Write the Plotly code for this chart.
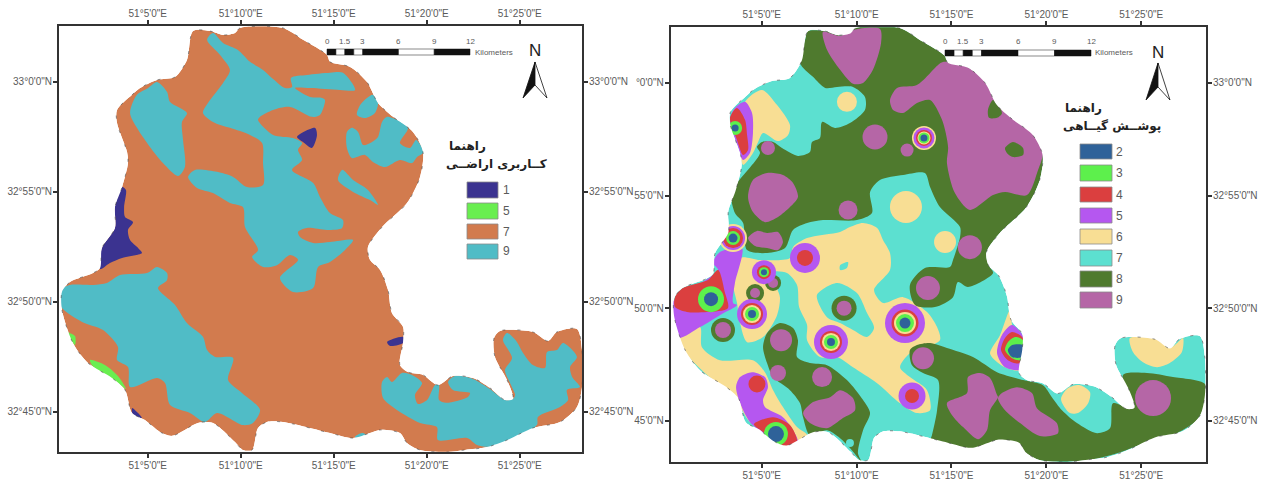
import plotly.graph_objects as go

# All map vertices are (longitude minutes past 51 deg E, latitude minutes past 32 deg 40' N)
BOUNDARY = [(7.44,22.3),(8.35,22.3),(9.05,22.12),(9.69,22.21),(9.96,22.44),(12.27,22.44),(13.35,21.9),(14.64,21.21),(14.8,20.9),(15.88,20.67),(16.79,19.98),(17.38,19.03),(18.19,18.4),(19.26,17.71),(19.8,16.8),(19.64,15.67),(18.94,14.48),(17.6,13.39),(16.84,12.48),(16.95,11.9),(17.49,11.44),(17.92,10.53),(18.13,9.49),(18.73,8.85),(18.73,8.17),(18.56,7.12),(18.99,6.8),(19.8,6.67),(20.6,6.21),(21.41,6.62),(22.49,6.53),(23.4,6.08),(24.21,5.53),(24.64,5.58),(24.32,6.44),(23.67,7.49),(23.62,8.35),(23.94,8.67),(25.71,8.62),(26.52,8.21),(27.0,8.62),(28.08,8.76),(28.35,7.8),(28.35,6.12),(28.08,5.21),(27.17,4.53),(25.71,4.26),(24.32,3.71),(23.24,3.39),(22.06,3.26),(21.09,3.17),(19.64,3.26),(18.94,3.58),(18.56,4.03),(17.49,4.17),(16.95,4.03),(16.03,3.8),(14.8,4.03),(12.27,4.53),(11.41,4.53),(10.93,4.26),(10.61,3.26),(10.12,3.26),(9.69,3.62),(8.51,4.49),(7.7,4.49),(6.31,3.9),(5.66,4.08),(4.85,4.62),(4.16,4.94),(3.78,5.99),(3.08,6.53),(1.79,7.21),(0.98,8.12),(0.39,9.62),(0.39,10.44),(0.82,10.89),(2.06,11.3),(2.44,11.53),(2.54,12.44),(3.24,13.35),(3.24,14.3),(3.62,15.2),(3.94,16.3),(3.89,16.8),(3.35,18.12),(3.35,18.71),(4.16,19.4),(4.59,19.71),(5.5,20.08),(6.47,20.21),(7.11,20.98)]

# ---- Land use map, class 9
LU9_CENTRAL = [(8.19,21.9),(8.51,22.21),(9.05,21.76),(9.85,21.44),(10.5,20.9),(11.2,20.53),(11.74,20.12),(12.38,19.71),(12.76,19.76),(12.7,20.17),(13.56,20.3),(14.8,20.4),(15.5,20.4),(16.15,19.62),(15.34,19.62),(13.73,19.71),(12.92,19.71),(13.73,19.3),(14.37,19.26),(14.53,19.17),(14.26,18.49),(13.83,18.4),(12.65,18.85),(11.74,18.71),(11.04,18.4),(10.93,18.26),(11.74,17.58),(12.81,17.44),(13.3,17.21),(13.08,16.9),(13.3,16.44),(12.76,15.99),(13.89,15.4),(14.26,14.76),(14.8,14.03),(15.5,13.71),(15.45,13.35),(14.64,13.26),(13.56,13.35),(13.08,13.17),(13.19,12.94),(13.89,12.67),(14.8,12.71),(16.04,12.8),(15.61,12.35),(14.8,11.8),(14.16,11.58),(13.89,10.62),(12.81,10.44),(12.11,11.08),(13.08,11.9),(12.65,12.12),(11.95,11.66),(11.2,11.58),(10.61,12.03),(10.93,12.35),(10.23,13.39),(10.12,14.3),(9.42,14.49),(8.51,14.94),(7.65,15.17),(7.17,15.67),(7.54,15.99),(8.73,15.9),(9.59,15.67),(10.34,15.21),(11.2,15.3),(11.2,16.3),(11.15,17.21),(10.5,17.58),(9.42,17.9),(8.51,18.17),(7.97,18.58),(8.24,19.03),(9.05,19.94),(9.42,20.53),(8.89,21.21)]
LU9_WEST = [(5.5,19.98),(6.04,19.53),(6.2,19.08),(7.11,18.58),(6.84,18.17),(6.9,17.35),(7.0,16.12),(6.63,15.71),(5.82,16.3),(5.12,17.03),(4.42,17.9),(4.05,18.58),(4.42,19.4),(5.02,19.71)]
LU9_EAST = [(17.87,18.4),(18.99,17.9),(18.56,17.21),(19.1,16.99),(19.43,17.35),(19.75,16.99),(19.8,16.76),(19.48,16.58),(19.21,16.3),(18.56,16.44),(17.76,16.12),(17.11,16.35),(16.68,16.67),(15.98,16.53),(15.71,16.99),(15.71,17.71),(15.98,17.9),(16.31,17.71),(16.58,17.12),(17.06,17.26),(17.38,17.49),(17.6,18.17)]
LU9_NE_BLOB = [(17.11,19.4),(17.38,19.03),(17.22,18.58),(16.68,18.35),(16.25,18.49),(16.42,18.94),(16.79,19.26)]
LU9_STRIP = [(15.45,15.99),(16.04,15.53),(16.84,15.08),(17.38,14.4),(16.95,14.62),(16.04,14.99),(15.23,15.53)]
LU9_SW = [(0.28,10.08),(0.45,10.62),(0.82,10.76),(2.06,10.76),(2.81,10.85),(3.51,11.21),(4.96,11.3),(5.5,11.58),(6.04,11.3),(6.04,10.99),(5.55,10.62),(6.47,9.85),(7.11,9.03),(7.97,8.4),(8.19,7.8),(8.62,7.49),(9.59,7.44),(9.32,6.44),(10.07,5.85),(11.04,5.08),(10.66,4.49),(10.12,4.39),(8.73,4.94),(8.08,4.53),(7.27,4.94),(6.2,5.3),(5.93,6.3),(5.5,6.53),(4.05,6.12),(3.94,7.03),(3.35,7.35),(3.4,7.94),(2.6,8.71),(1.47,9.08),(0.39,9.71)]
LU9_SE = [(17.6,6.35),(17.87,6.58),(18.13,6.35),(18.67,6.76),(19.21,6.67),(19.75,6.3),(19.37,5.76),(19.53,5.35),(20.02,5.53),(20.45,6.21),(20.66,6.21),(20.66,5.53),(21.04,5.4),(22.22,5.67),(22.33,5.85),(21.41,5.99),(21.15,6.35),(21.52,6.62),(22.49,6.49),(23.4,6.03),(24.21,5.53),(24.64,5.58),(24.75,5.76),(24.48,6.3),(24.21,6.9),(24.59,7.44),(24.1,8.26),(24.32,8.58),(24.85,8.17),(25.18,7.67),(25.71,7.12),(26.36,6.99),(26.47,7.71),(27.0,7.8),(27.33,8.12),(28.08,7.49),(27.71,7.03),(27.82,6.58),(28.24,6.12),(27.54,5.99),(27.6,5.53),(27.17,5.21),(25.98,4.76),(25.93,4.4),(24.64,3.71),(23.57,3.39),(22.71,3.48),(22.17,3.8),(20.6,3.71),(20.55,4.3),(19.64,4.49),(18.4,5.08),(17.65,5.62)]
LU9_SOUTH_SPECK = [(16.14,3.85),(16.52,4.03),(16.84,3.9),(16.52,3.71)]
# ---- Land use map, class 5
LU5_A = [(0.61,8.62),(1.09,8.44),(1.09,8.03),(0.82,8.35)]
LU5_B = [(1.9,7.35),(2.7,7.12),(3.4,6.62),(3.83,6.03),(3.24,6.4),(2.6,6.67),(2.0,7.12)]
# ---- Land use map, class 1
LU1_WEST = [(3.62,15.21),(3.83,15.08),(3.73,14.3),(3.78,13.85),(4.21,13.62),(3.94,13.26),(4.05,12.8),(4.48,12.44),(4.69,12.21),(3.62,11.99),(2.97,11.76),(2.44,11.48),(2.54,12.44),(3.24,13.35),(3.24,14.3)]
LU1_NORTH = [(13.03,17.49),(13.99,17.9),(14.1,17.58),(13.83,16.99),(13.35,17.26)]
LU1_EAST = [(17.87,8.17),(18.73,8.4),(18.73,8.12),(18.03,7.99)]
LU1_SOUTH = [(4.16,5.17),(4.48,4.94),(4.69,4.71),(4.21,4.85)]

# ---- Vegetation map
V6_MAIN = [(6.65,12.71),(7.39,13.11),(9.13,13.38),(9.65,13.6),(10.34,13.78),(11.08,13.56),(11.39,13.03),(11.76,12.45),(11.76,11.69),(10.92,10.8),(11.39,10.23),(12.45,10.49),(13.71,9.83),(14.24,9.16),(14.39,8.58),(12.81,8.0),(12.29,7.38),(12.81,6.94),(13.71,6.36),(13.87,5.47),(13.18,5.34),(12.29,5.78),(11.08,6.67),(9.81,7.38),(8.97,7.83),(8.07,7.83),(7.39,8.58),(7.39,9.25),(6.97,10.05),(6.86,11.03),(6.33,11.56),(5.6,11.6),(5.7,11.11),(5.96,10.49),(5.81,9.69),(5.07,8.72),(4.23,8.49),(3.86,9.34),(3.7,10.23),(3.49,11.12),(3.86,12.23),(4.91,12.14),(6.49,12.23)]
V6_WEST = [(4.12,19.16),(5.02,19.69),(5.81,19.02),(6.49,18.13),(6.39,17.69),(5.86,17.42),(5.07,17.78),(4.81,17.38),(4.54,16.89),(4.02,16.36),(3.86,17.02)]
V6_SW = [(0.59,8.67),(1.75,9.16),(1.85,8.27),(2.8,7.69),(4.54,7.69),(5.17,7.16),(5.6,6.36),(6.12,5.61),(6.86,4.72),(7.39,4.36),(6.49,3.92),(4.38,4.94),(3.49,6.14),(2.12,7.03),(0.85,8.14)]
V6_SOUTH = [(20.77,5.96),(21.14,6.45),(21.77,6.58),(22.3,6.27),(22.2,5.78),(21.66,5.34),(21.24,5.34)]
V6_EAST = [(24.4,8.67),(25.83,8.63),(26.5,8.23),(26.93,8.49),(27.2,8.67),(27.14,8.05),(26.5,7.56),(25.83,7.38),(25.09,7.6),(24.56,8.05)]
V6_E_TARGET = [(18.08,9.92),(18.19,9.25),(18.61,7.25),(17.82,7.38),(17.29,7.69),(17.03,8.0),(17.56,8.81)]
V7_CENTER = [(7.91,10.58),(8.97,11.12),(10.02,10.67),(10.55,9.78),(10.92,9.12),(10.55,8.72),(9.81,9.03),(9.13,9.34),(8.44,9.6)]
V7_SPECK = [(9.13,11.91),(9.55,12.05),(9.49,11.78),(9.13,11.69)]
V8_NORTH = [(7.44,22.3),(8.35,22.3),(9.05,22.12),(9.69,22.21),(9.96,22.44),(12.27,22.44),(13.35,21.9),(14.64,21.21),(14.8,20.9),(15.88,20.67),(16.79,19.98),(17.38,19.03),(18.19,18.4),(19.26,17.71),(19.8,16.8),(19.64,15.67),(18.94,14.48),(17.6,13.39),(16.84,12.48),(16.95,11.9),(17.19,11.56),(15.87,10.94),(15.34,11.16),(15.08,10.49),(14.13,10.05),(13.08,10.14),(12.81,11.03),(13.6,11.78),(14.92,11.83),(15.08,12.14),(15.45,13.16),(15.45,13.6),(14.39,14.49),(13.87,15.38),(13.6,16.0),(12.45,15.91),(11.23,15.69),(10.71,15.16),(10.81,14.22),(10.02,13.91),(8.23,13.91),(7.39,13.78),(6.65,13.47),(6.23,12.67),(5.29,12.45),(4.23,12.58),(4.02,13.78),(3.59,14.22),(3.38,15.11),(3.7,15.56),(4.91,16.89),(4.75,17.16),(5.02,17.38),(5.6,17.38),(6.07,17.11),(6.91,16.76),(7.54,16.93),(7.65,17.38),(8.07,17.56),(8.18,18.27),(8.86,18.0),(9.65,18.22),(10.44,18.8),(10.44,19.38),(9.81,19.82),(8.97,19.82),(8.34,19.78),(7.7,20.27),(7.02,20.89),(7.29,21.91)]
V8_SOUTHEAST = [(13.87,8.45),(14.76,8.23),(16.13,7.83),(17.4,7.16),(18.77,6.81),(19.82,6.58),(20.29,6.05),(20.82,5.47),(21.61,4.9),(22.67,4.45),(23.35,4.67),(23.51,5.78),(24.41,5.52),(24.56,5.56),(24.04,7.03),(25.3,7.12),(26.67,6.94),(28.36,6.63),(28.36,5.78),(27.93,5.03),(26.88,4.45),(25.3,4.05),(23.72,3.56),(22.14,3.25),(19.66,3.25),(18.87,3.6),(18.5,3.92),(17.4,4.05),(16.13,3.78),(13.87,4.05),(13.97,4.36),(14.24,5.47),(14.29,6.81),(13.5,7.12),(12.92,7.47),(12.81,8.14),(13.18,8.36)]
V8_SOUTHWEST = [(5.07,8.27),(5.28,8.89),(5.96,9.34),(6.65,9.12),(6.91,8.58),(6.86,7.83),(7.54,7.56),(8.44,7.47),(9.49,6.81),(10.34,5.92),(10.71,5.34),(10.34,4.58),(10.07,3.56),(10.28,3.16),(9.65,3.79),(9.13,4.23),(8.44,4.58),(7.54,4.36),(7.18,5.16),(7.02,5.78),(6.49,6.36),(5.6,6.94),(5.28,7.56)]
V8_IN_PINK_A = [(16.92,18.8),(17.19,19.24),(17.66,18.67),(17.4,18.45),(16.98,18.45)]
V8_IN_PINK_B = [(17.82,17.11),(18.24,17.38),(18.77,17.11),(18.77,16.8),(18.24,16.71),(17.92,16.89)]
V9_NORTH = [(8.23,22.27),(9.13,22.09),(9.81,22.35),(11.23,22.4),(11.29,21.78),(10.86,20.58),(10.34,20.0),(9.81,19.96),(9.13,20.58),(8.44,21.47)]
V9_NORTHEAST = [(11.76,19.24),(11.92,18.8),(12.45,18.67),(13.18,19.11),(13.87,19.24),(14.5,18.36),(14.82,17.16),(14.76,16.45),(15.18,15.11),(15.97,14.36),(17.19,15.02),(17.82,15.16),(18.98,15.02),(19.56,16.13),(19.82,16.89),(19.5,17.69),(18.19,18.49),(17.19,19.33),(16.87,20.04),(15.61,20.8),(14.55,20.93),(14.29,20.8),(13.18,19.91),(12.13,19.78)]
V9_WEST = [(4.28,14.94),(4.54,15.69),(5.28,16.0),(6.12,15.91),(6.65,15.56),(6.91,14.94),(6.49,14.49),(5.86,14.05),(5.17,13.82),(4.54,14.27)]
V9_WEST_SMALL = [(4.28,13.11),(4.75,13.43),(5.28,13.34),(5.86,13.38),(6.12,12.94),(5.86,12.58),(5.28,12.67),(4.65,12.76)]
V9_SE_A = [(14.76,5.78),(15.82,6.23),(15.87,6.94),(16.5,7.12),(17.03,6.9),(17.4,6.14),(17.45,6.05),(17.03,5.47),(16.87,4.58),(16.4,4.18),(15.61,4.72),(15.03,5.25)]
V9_SE_B = [(17.66,6.23),(18.45,6.49),(19.24,6.23),(19.5,5.56),(20.55,4.9),(20.61,4.45),(19.66,4.32),(18.61,4.9),(17.82,5.47),(17.45,6.0)]
V9_SOUTH = [(7.18,5.34),(7.7,5.83),(8.6,6.05),(9.13,6.36),(9.81,6.01),(9.92,5.47),(9.28,5.12),(8.44,4.67),(7.54,4.9)]
V7_TEAL_SPOT_LON = [9.65]
V7_TEAL_SPOT_LAT = [4.01]
V6_SPOT_LON = [9.49, 12.6, 14.66]
V6_SPOT_LAT = [19.16, 14.49, 12.94]
V8_SPOT_LON = [9.34, 2.96, 5.6, 4.65]
V8_SPOT_LAT = [10.0, 9.03, 11.12, 10.67]
V9_SPOT_LON = [10.97, 12.66, 5.33, 9.55, 15.97, 13.76, 13.5, 6.02, 5.86, 8.18, 25.62, 2.96, 9.34, 5.6, 4.65]
V9_SPOT_LAT = [17.6, 17.02, 17.11, 14.36, 12.71, 10.89, 7.78, 8.58, 7.12, 6.94, 6.01, 9.03, 10.0, 11.12, 10.67]
V5_WEST = [(4.12,19.16),(4.49,18.67),(4.54,17.78),(4.38,16.89),(4.02,16.58),(3.75,17.16),(3.33,18.36),(3.59,18.89)]
V4_WEST = [(3.7,18.89),(4.12,18.36),(4.23,17.69),(4.28,17.02),(4.02,16.8),(3.7,17.47),(3.33,18.45)]
V5_W_BULGE = [(2.43,12.0),(2.8,12.49),(3.96,12.67),(3.59,11.12),(3.49,10.23),(3.7,10.14),(2.8,9.69),(1.75,9.16),(0.59,8.67),(0.27,9.6),(0.27,10.23),(2.7,11.69)]
V4_W_BULGE = [(0.43,10.49),(0.85,10.89),(2.17,11.25),(2.7,11.69),(3.07,10.67),(3.22,10.0),(2.12,9.83),(1.06,9.83),(0.43,10.05)]
V5_SW = [(3.65,6.5),(3.86,6.94),(4.49,7.16),(5.17,6.94),(5.33,6.5),(5.07,5.92),(5.17,5.61),(6.12,5.16),(6.65,4.58),(6.91,4.05),(6.33,3.83),(5.07,4.45),(4.38,4.94),(3.86,5.79)]
V4_SW = [(4.59,4.85),(5.6,5.16),(6.49,4.81),(6.86,4.05),(6.33,3.83),(5.07,4.5)]
V5_E_TARGET = [(18.19,9.25),(18.82,8.67),(18.71,7.29),(17.82,7.38),(17.4,8.0),(17.66,8.81)]
V4_E_TARGET = [(18.19,8.94),(18.77,8.67),(18.61,7.56),(17.97,7.69),(17.61,8.14),(17.82,8.67)]
V3_E_TARGET = [(18.35,8.72),(18.77,8.58),(18.71,7.69),(18.19,7.78),(17.82,8.14),(17.97,8.49)]
V2_E_TARGET = [(18.19,8.36),(18.77,8.36),(18.71,7.83),(18.19,7.83),(17.97,8.14)]
TARGET_LON = [13.55, 3.6, 3.49, 2.33, 4.49, 5.12, 8.65, 12.55, 12.92, 7.28, 4.75, 5.75]
TARGET_LAT = [17.56, 18.0, 13.11, 10.4, 9.74, 11.6, 8.5, 9.34, 6.1, 12.23, 6.63, 4.41]

LON_TICKS = [5, 10, 15, 20, 25]
LON_LABELS = ["51°5'0\"E", "51°10'0\"E", "51°15'0\"E", "51°20'0\"E", "51°25'0\"E"]
LAT_TICKS = [20, 15, 10, 5]
LAT_LABELS_FULL = ["33°0'0\"N", "32°55'0\"N", "32°50'0\"N", "32°45'0\"N"]
LAT_LABELS_CUT = ["°0'0\"N", "55'0\"N", "50'0\"N", "45'0\"N"]

LANDUSE_CLASSES = ["1", "5", "7", "9"]
VEGETATION_CLASSES = ["2", "3", "4", "5", "6", "7", "8", "9"]
SCALE_LABELS = ["0", "1.5", "3", "6", "9", "12"]

# ---- styles
W, H = 1264, 483
LU = {"1": "#3B3390", "5": "#69EE50", "7": "#D27B4E", "9": "#50BCC6"}
VG = {"2": "#2F6299", "3": "#5DF04C", "4": "#DB3F3F", "5": "#B557F0", "6": "#F8DE94", "7": "#5CE0D0", "8": "#4F7A2E", "9": "#B566A6"}
GREY = "#5a5a5a"
FRAME = "#333333"
X_RANGE = [0.23, 28.35]
Y_RANGE_L = [3.18, 22.53]
X_RANGE_R = [0.205, 28.41]
Y_RANGE_R = [3.17, 22.47]
SMOOTH = 0.8

fig = go.Figure()

def poly(coords, color, xa, ya):
    xs = [c[0] for c in coords] + [coords[0][0]]
    ys = [c[1] for c in coords] + [coords[0][1]]
    fig.add_trace(go.Scatter(x=xs, y=ys, mode="lines", fill="toself", fillcolor=color,
                             line=dict(width=0, color=color, shape="spline", smoothing=SMOOTH),
                             hoverinfo="skip", xaxis=xa, yaxis=ya))

def dots(lons, lats, sizes, colors, xa, ya):
    fig.add_trace(go.Scatter(x=lons, y=lats, mode="markers",
                             marker=dict(size=sizes, color=colors, line=dict(width=0), opacity=1),
                             hoverinfo="skip", xaxis=xa, yaxis=ya))

def mask(xr, yr, xa, ya):
    # a white sheet, pierced by the study-area outline, stretching past the axes
    x0, x1, y0, y1 = xr[0]-4, xr[1]+4, yr[0]-4, yr[1]+4
    outer = [(x0, y1), (x0, y0), (x1, y0), (x1, y1), (x0, y1)]
    xs = [p[0] for p in outer] + [None] + [c[0] for c in BOUNDARY] + [BOUNDARY[0][0]]
    ys = [p[1] for p in outer] + [None] + [c[1] for c in BOUNDARY] + [BOUNDARY[0][1]]
    fig.add_trace(go.Scatter(x=xs, y=ys, mode="lines", fill="toself", fillcolor="white",
                             line=dict(width=0, color="white", shape="spline", smoothing=SMOOTH),
                             hoverinfo="skip", xaxis=xa, yaxis=ya))
    xs = [c[0] for c in BOUNDARY] + [BOUNDARY[0][0]]
    ys = [c[1] for c in BOUNDARY] + [BOUNDARY[0][1]]
    fig.add_trace(go.Scatter(x=xs, y=ys, mode="lines",
                             line=dict(width=0.6, color="#444444", dash="3px,12px", shape="spline", smoothing=SMOOTH),
                             hoverinfo="skip", xaxis=xa, yaxis=ya))

# left map
poly(BOUNDARY, LU["7"], "x", "y")
for p in [LU9_CENTRAL, LU9_WEST, LU9_EAST, LU9_NE_BLOB, LU9_STRIP, LU9_SW, LU9_SE, LU9_SOUTH_SPECK]:
    poly(p, LU["9"], "x", "y")
for p in [LU5_A, LU5_B]:
    poly(p, LU["5"], "x", "y")
for p in [LU1_WEST, LU1_NORTH, LU1_EAST, LU1_SOUTH]:
    poly(p, LU["1"], "x", "y")
mask(X_RANGE, Y_RANGE_L, "x", "y")

# right map
poly(BOUNDARY, VG["7"], "x2", "y2")
for p in [V6_MAIN, V6_WEST, V6_SW, V6_SOUTH, V6_EAST, V6_E_TARGET]:
    poly(p, VG["6"], "x2", "y2")
for p in [V7_CENTER, V7_SPECK]:
    poly(p, VG["7"], "x2", "y2")
dots(V6_SPOT_LON, V6_SPOT_LAT, [20, 32, 22], VG["6"], "x2", "y2")
for p in [V8_NORTH, V8_SOUTHEAST, V8_SOUTHWEST]:
    poly(p, VG["8"], "x2", "y2")
dots(V7_TEAL_SPOT_LON, V7_TEAL_SPOT_LAT, [8], VG["7"], "x2", "y2")
dots(V8_SPOT_LON, V8_SPOT_LAT, [25, 24, 16, 18], VG["8"], "x2", "y2")
for p in [V9_NORTH, V9_NORTHEAST, V9_WEST, V9_WEST_SMALL, V9_SE_A, V9_SE_B, V9_SOUTH]:
    poly(p, VG["9"], "x2", "y2")
for p in [V8_IN_PINK_A, V8_IN_PINK_B]:
    poly(p, VG["8"], "x2", "y2")
dots(V9_SPOT_LON, V9_SPOT_LAT, [25, 13, 14, 19, 24, 24, 22, 22, 16, 20, 36, 16, 15, 10, 10], VG["9"], "x2", "y2")
for p, k in [(V5_WEST, "5"), (V4_WEST, "4"), (V5_W_BULGE, "5"), (V4_W_BULGE, "4"), (V5_SW, "5"), (V4_SW, "4"),
             (V5_E_TARGET, "5"), (V4_E_TARGET, "4"), (V3_E_TARGET, "3"), (V2_E_TARGET, "2")]:
    poly(p, VG[k], "x2", "y2")
TARGET_LAYERS = [
    [("6", 24), ("5", 21), ("4", 16), ("6", 13), ("3", 11), ("2", 7)],
    [("3", 14), ("2", 7)],
    [("6", 28), ("5", 24), ("4", 20), ("3", 14), ("2", 9)],
    [("3", 26), ("2", 14)],
    [("5", 30), ("4", 22), ("6", 18), ("3", 14), ("2", 8)],
    [("5", 24), ("4", 14), ("3", 10), ("2", 6)],
    [("5", 34), ("4", 22), ("6", 18), ("3", 14), ("2", 8)],
    [("5", 40), ("4", 27), ("6", 22), ("3", 18), ("2", 11)],
    [("5", 27), ("4", 14)],
    [("5", 30), ("4", 16)],
    [("4", 17)],
    [("3", 24), ("2", 16)],
]
tx, ty, ts, tc = [], [], [], []
for lon, lat, layers in zip(TARGET_LON, TARGET_LAT, TARGET_LAYERS):
    for k, d in layers:
        tx.append(lon); ty.append(lat); ts.append(d); tc.append(VG[k])
dots(tx, ty, ts, tc, "x2", "y2")
mask(X_RANGE_R, Y_RANGE_R, "x2", "y2")

# dummy traces for the opposite-side axes
for xa, ya in [("x3", "y3"), ("x4", "y4")]:
    fig.add_trace(go.Scatter(x=[None], y=[None], mode="markers", hoverinfo="skip", xaxis=xa, yaxis=ya))

tickfont = dict(family="Liberation Sans, Arial, sans-serif", size=10, color=GREY)
def xax(dom, rng, side, anchor, overlay=None):
    d = dict(domain=dom, range=rng, side=side, anchor=anchor, tickmode="array", tickvals=LON_TICKS, ticktext=LON_LABELS,
             ticks="outside", ticklen=4, tickwidth=1.5, tickcolor=FRAME, showline=True, linecolor=FRAME, linewidth=2,
             showgrid=False, zeroline=False, tickfont=tickfont, tickangle=0, layer="above traces", ticklabelstandoff=-1)
    if overlay: d["overlaying"] = overlay
    return d
def yax(dom, rng, side, anchor, labels, overlay=None):
    d = dict(domain=dom, range=rng, side=side, anchor=anchor, tickmode="array", tickvals=LAT_TICKS, ticktext=labels,
             ticks="outside", ticklen=4, tickwidth=1.5, tickcolor=FRAME, showline=True, linecolor=FRAME, linewidth=2,
             showgrid=False, zeroline=False, tickfont=tickfont, layer="above traces", ticklabelstandoff=-1)
    if overlay: d["overlaying"] = overlay
    return d

dxl = [59/W, 582/W]; dyl = [1-451.7/H, 1-26/H]
dxr = [670.7/W, 1206/W]; dyr = [1-462/H, 1-27.3/H]

def px(x): return x / W
def py(y): return 1 - y / H

shapes, annos = [], []
def rect(x0, y0, x1, y1, fill, line=None, lw=0.6):
    shapes.append(dict(type="rect", xref="paper", yref="paper", x0=px(x0), x1=px(x1), y0=py(y1), y1=py(y0),
                       fillcolor=fill, line=dict(color=line or fill, width=lw)))
def text(x, y, s, size=12, color=GREY, family="Liberation Sans, Arial, sans-serif", bold=False, xanchor="center"):
    annos.append(dict(xref="paper", yref="paper", x=px(x), y=py(y), text=f"<b>{s}</b>" if bold else s, showarrow=False,
                      xanchor=xanchor, yanchor="middle", font=dict(size=size, color=color, family=family)))
def path(points, fill, line=None, lw=0.8):
    d = "M " + " L ".join(f"{px(a):.5f},{py(b):.5f}" for a, b in points) + " Z"
    shapes.append(dict(type="path", xref="paper", yref="paper", path=d, fillcolor=fill, line=dict(color=line or fill, width=lw)))

def scalebar(x0, step, y0, y1, ylab, kmx):
    edges = [0, 0.25*step, 0.5*step, 0.75*step, step, 2*step, 3*step, 4*step]
    fills = ["#111", "white", "#111", "white", "#111", "white", "#111"]
    for a, b, f in zip(edges[:-1], edges[1:], fills):
        rect(x0+a, y0, x0+b, y1, f, "#111", 0.5)
    for lab, e in zip(SCALE_LABELS, [0, 0.5*step, step, 2*step, 3*step, 4*step]):
        text(x0+e, ylab, lab, size=8)
    text(kmx, (y0+y1)/2, "Kilometers", size=8, xanchor="left")

def north(cx, ytip, ynotch, ybase, half, ylab):
    path([(cx, ytip), (cx, ynotch), (cx-half, ybase)], "#111", "#111")
    path([(cx, ytip), (cx+half, ybase), (cx, ynotch)], "white", "#111")
    text(cx, ylab, "N", size=17, color="#222")

scalebar(327, 35.75, 49, 55, 41, 473)
scalebar(945, 36.5, 50, 56, 42, 1093)
north(535, 62, 85, 98, 12, 51)
north(1158, 63, 87, 100, 12, 52)

AR = "DejaVu Sans, Noto Sans, sans-serif"
text(467, 146, "راهنما", size=12, color="#222", family=AR, bold=True)
text(496, 164, "کــاربری اراضــی", size=12, color="#222", family=AR, bold=True)
text(1083, 108, "راهنما", size=12, color="#222", family=AR, bold=True)
text(1112, 127, "پوشــش گیــاهی", size=12, color="#222", family=AR, bold=True)

for k, (a, b) in zip(LANDUSE_CLASSES, [(182, 198), (203, 219), (224, 239), (244, 259)]):
    rect(467, a, 498, b, LU[k], "#8a8a8a", 0.8)
    text(506, (a+b)/2, k, size=12, xanchor="center")
for k, (a, b) in zip(VEGETATION_CLASSES, [(144, 159), (165, 181), (187, 202), (208, 223), (229, 244), (250, 266), (271, 287), (292, 308)]):
    rect(1080, a, 1112, b, VG[k], "#8a8a8a", 0.8)
    text(1119, (a+b)/2, k, size=12, xanchor="center")

fig.update_layout(
    width=W, height=H, margin=dict(l=0, r=0, t=0, b=0), showlegend=False, hovermode=False,
    paper_bgcolor="white", plot_bgcolor="white", shapes=shapes, annotations=annos,
    xaxis=xax(dxl, X_RANGE, "bottom", "y"),
    yaxis=yax(dyl, Y_RANGE_L, "left", "x", LAT_LABELS_FULL),
    xaxis2=xax(dxr, X_RANGE_R, "bottom", "y2"),
    yaxis2=yax(dyr, Y_RANGE_R, "left", "x2", LAT_LABELS_CUT),
    xaxis3=xax(dxl, X_RANGE, "top", "y3", "x"),
    yaxis3=yax(dyl, Y_RANGE_L, "right", "x3", LAT_LABELS_FULL, "y"),
    xaxis4=xax(dxr, X_RANGE_R, "top", "y4", "x2"),
    yaxis4=yax(dyr, Y_RANGE_R, "right", "x4", LAT_LABELS_FULL, "y2"),
)
fig.write_html("out.html", config={"displayModeBar": False},
               post_script="document.body.style.margin='0';document.body.style.overflow='hidden';")
